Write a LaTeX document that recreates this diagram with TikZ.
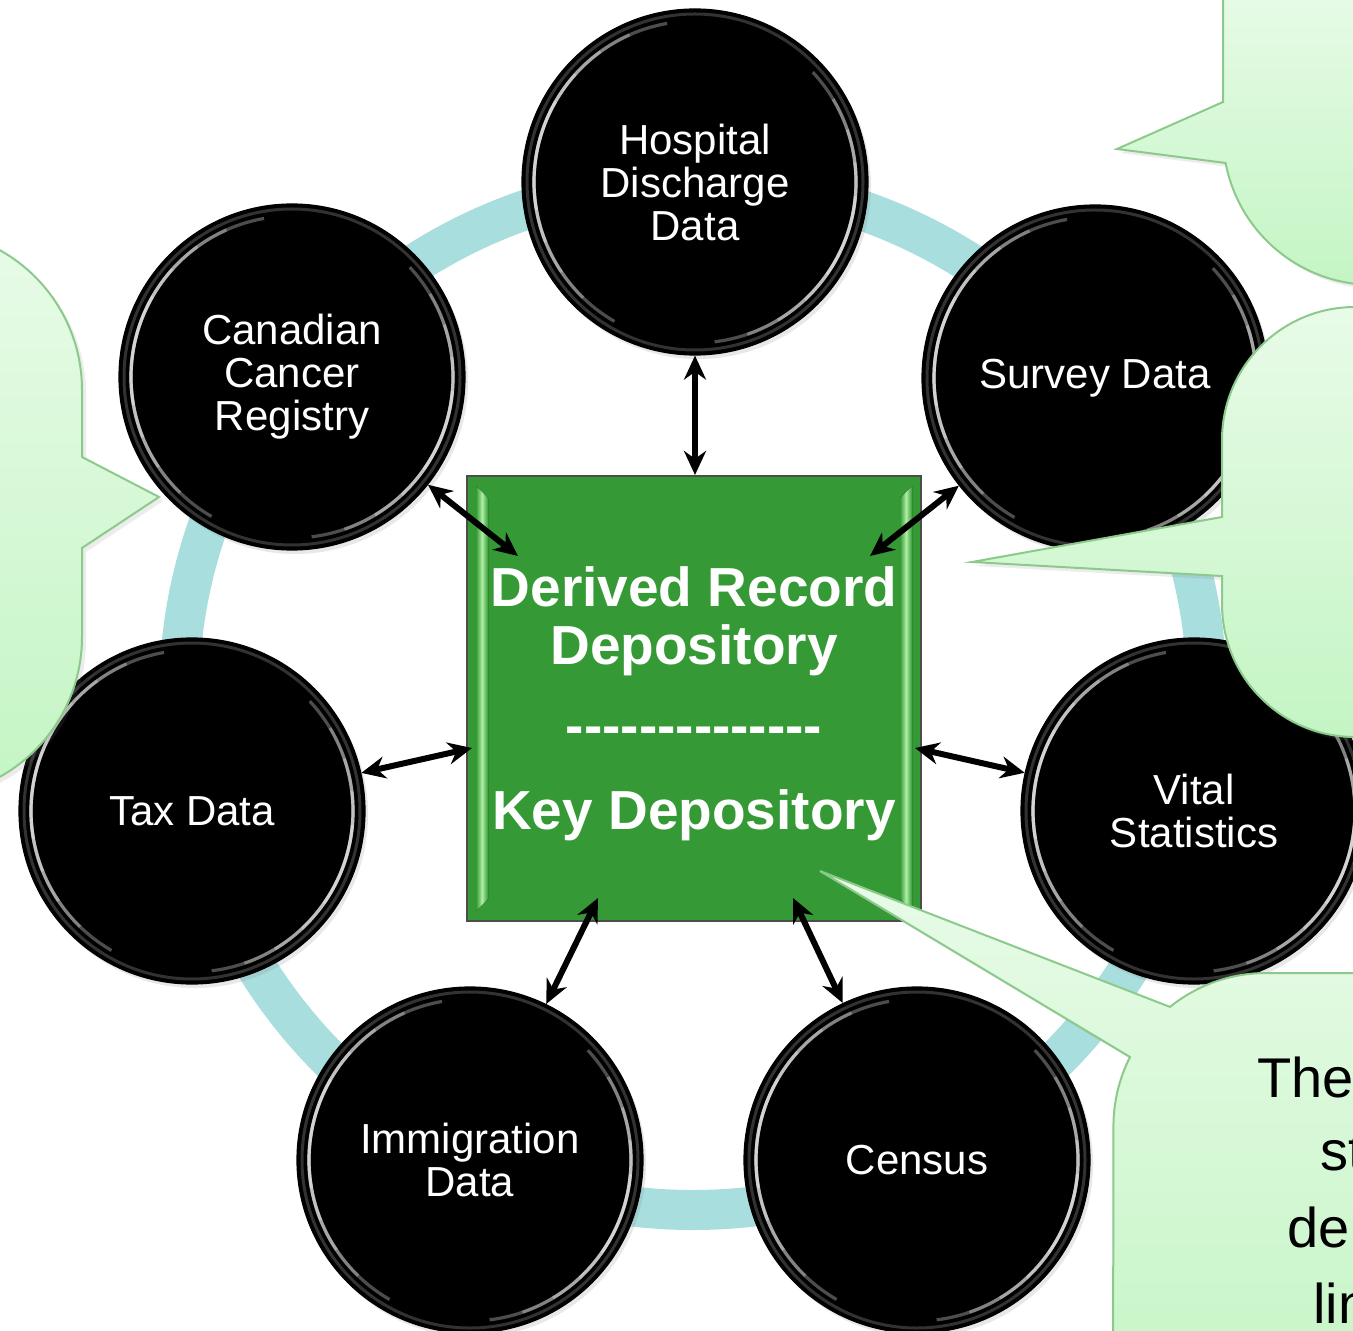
\documentclass[tikz,border=0pt]{standalone}
\usepackage{fontspec}
\setmainfont{Liberation Sans}
\usetikzlibrary{arrows.meta,shadows}
\definecolor{ringc}{RGB}{168,222,222}
\definecolor{boxg}{RGB}{53,154,53}
\definecolor{bevel}{RGB}{175,238,165}
\definecolor{calltop}{RGB}{232,251,232}
\definecolor{callbot}{RGB}{196,245,196}
\definecolor{callline}{RGB}{140,202,140}
\newcommand\hy{-\kern0pt}
\begin{document}
\begin{tikzpicture}[x=0.5pt,y=-0.5pt,
  disc/.style={circle, fill=black, draw=black, line width=0.6pt, minimum size=173pt, inner sep=0pt,
    text=white, align=center, font=\fontsize{21pt}{21.5pt}\selectfont,
    drop shadow={shadow xshift=1.5pt, shadow yshift=-2pt, opacity=0.18}},
  depot/.style={rectangle, fill=boxg, draw=black!70, line width=1pt, minimum width=227pt,
    minimum height=222.5pt, inner sep=0pt},
  depottext/.style={text=white, align=center, inner sep=0pt, font=\fontsize{27.5pt}{29pt}\selectfont\bfseries},
  link/.style={line width=3pt, {Stealth[length=12pt,width=11pt]}-{Stealth[length=12pt,width=11pt]}},
  callout/.style={draw=callline, line width=1pt, top color=calltop, bottom color=callbot,
    drop shadow={shadow xshift=2pt, shadow yshift=-2pt, opacity=0.15}},
  calltext/.style={anchor=base west, inner sep=0pt, font=\fontsize{28pt}{28pt}\selectfont},
  ringline/.style={draw=ringc, line width=20pt},
  rimband/.style={gray!70, line width=1.5pt, opacity=0.3},
  rimlight/.style={white, line width=1.6pt, opacity=0.3},
  bevelstrip/.style={left color=boxg, right color=boxg, middle color=bevel},
]
\useasboundingbox (0,0) rectangle (1353,1331);
\clip (0,0) rectangle (1353,1331);
\fill[white] (0,0) rectangle (1353,1331);

% ring
\coordinate (ringc) at (693,696);
\draw[ringline] (ringc) circle[radius=514];

% data sources
\node[disc] (hosp) at (695,182) {Hospital\\Discharge\\Data};
\node[disc] (can)  at (292,377) {Canadian\\Cancer\\Registry};
\node[disc] (sur)  at (1095,378) {Survey Data};
\node[disc] (tax)  at (192,811) {Tax Data};
\node[disc] (vit)  at (1194,811) {Vital\\Statistics};
\node[disc] (imm)  at (470,1160) {Immigration\\Data};
\node[disc] (cen)  at (917,1160) {Census};

\foreach \n in {hosp,can,sur,tax,vit,imm,cen}{
  \draw[rimband] (\n.center) circle[radius=168];
  \foreach \a/\b in {-150/-190,-138/-202,-126/-214,-114/-226,-100/-240}{
    \draw[rimlight] ([shift={(\a:161)}]\n.center) arc[start angle=\a, end angle=\b, radius=161];
  }
  \foreach \a/\b in {35/5,47/-7,59/-19,71/-31,83/-43}{
    \draw[rimlight] ([shift={(\a:161)}]\n.center) arc[start angle=\a, end angle=\b, radius=161];
  }
}

% central depository
\node[depot] (box) at (694,698.5) {};
\fill[bevelstrip] (476,486) -- (488,498) -- (488,899) -- (476,911) -- cycle;
\fill[bevelstrip] (912,486) -- (900,498) -- (900,899) -- (912,911) -- cycle;
\node[depottext, anchor=north] (boxtext) at (694,566)
  {Derived Record\\Depository\\[11pt]\hy\hy\hy\hy\hy\hy\hy\hy\hy\hy\hy\hy\hy\hy\\[13.5pt]Key Depository};

% connectors
\coordinate (pCan) at (518,556);
\coordinate (pSur) at (870,556);
\coordinate (pTax) at (472,748);
\coordinate (pVit) at (915,748);
\coordinate (pImm) at (598,898);
\coordinate (pCen) at (793,898);
\draw[link] (hosp) -- (hosp |- box.north);
\draw[link] (can) -- (pCan);
\draw[link] (sur) -- (pSur);
\draw[link] (tax) -- (pTax);
\draw[link] (vit) -- (pVit);
\draw[link] (imm) -- (pImm);
\draw[link] (cen) -- (pCen);

% callouts
\coordinate (tipL) at (159,497);
\coordinate (tipTR) at (1117,149);
\coordinate (tipMR) at (972,562);
\coordinate (tipBR) at (820,871);
\path[callout] (-100,230) -- (-78,230) arc[start angle=-90, end angle=0, radius=160]
  -- (82,457) -- (tipL) -- (82,548) -- (82,637) arc[start angle=0, end angle=90, radius=160]
  -- (-100,797) -- cycle;
\path[callout] (1223,-20) -- (1223,102) -- (tipTR) -- (1225.6,163)
  arc[start angle=-190.8, end angle=-270, radius=150] -- (1420,285) -- (1420,-20) -- cycle;
\path[callout] (1420,307) -- (1355,307) arc[start angle=-90, end angle=-180, radius=133]
  -- (1222,517) -- (tipMR) -- (1222,576) -- (1222,604) arc[start angle=-180, end angle=-270, radius=133]
  -- (1420,737) -- cycle;
\path[callout] (1420,973) -- (1266,973) arc[start angle=-90, end angle=-128.9, radius=153]
  -- (tipBR) -- (1130,1057) arc[start angle=-153.1, end angle=-180, radius=153]
  -- (1113,1420) -- (1420,1420) -- cycle;

\node[calltext] (ct1) at (1257,1097) {The};
\node[calltext] (ct2) at (1320,1170) {st};
\node[calltext] (ct3) at (1287,1247) {de};
\node[calltext] (ct4) at (1313,1323) {lin};
\end{tikzpicture}
\end{document}
